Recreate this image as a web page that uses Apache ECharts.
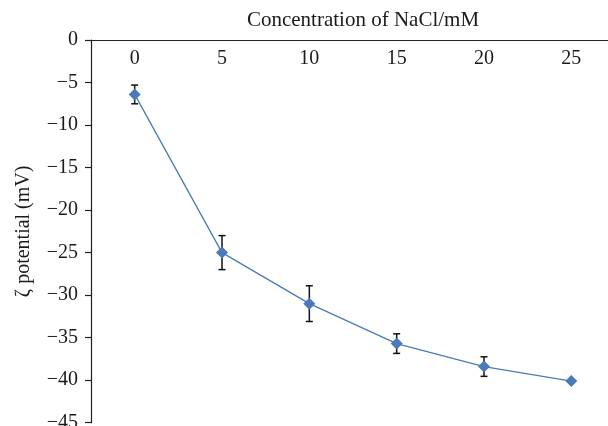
<!DOCTYPE html>
<html>
<head>
<meta charset="utf-8">
<script src="https://cdn.jsdelivr.net/npm/echarts@6/dist/echarts.min.js"></script>
<style>
  html, body { margin: 0; padding: 0; background: #fff; }
  #chart { width: 608px; height: 426px; }
</style>
</head>
<body>
<div id="chart"></div>
<script>
// NaCl concentration (mM) and measured zeta potential (mV) with standard deviation
const concentrations = ['0', '5', '10', '15', '20', '25'];
const zetaPotential = [-6.4, -25.0, -31.0, -35.7, -38.4, -40.1];
const zetaError = [1.1, 2.0, 2.1, 1.15, 1.15, 0];

const FONT = 'Liberation Serif';
const BLUE = '#4a7ab7';

const minusSign = v => (v < 0 ? '\u2212' + Math.abs(v) : String(v));

const errorData = concentrations.map((c, i) => [i, zetaPotential[i] - zetaError[i], zetaPotential[i] + zetaError[i]]);

const chart = echarts.init(document.getElementById('chart'), null, { renderer: 'canvas' });
chart.setOption({
  animation: false,
  grid: { left: 91, top: 40, width: 524, height: 382.7, outerBoundsMode: 'none', containLabel: false },
  xAxis: {
    type: 'category',
    position: 'top',
    data: concentrations,
    boundaryGap: true,
    name: 'Concentration of NaCl/mM',
    nameLocation: 'middle',
    nameGap: 9,
    nameTextStyle: { fontFamily: FONT, fontSize: 21, color: '#1a1a1a', padding: [0, 0, 0, 20] },
    axisLine: { onZero: false, lineStyle: { color: '#222', width: 1.2 } },
    axisTick: { inside: true, length: 5, lineStyle: { color: '#222', width: 1.2 } },
    axisLabel: { inside: true, margin: 9, fontFamily: FONT, fontSize: 20, color: '#1a1a1a' },
    splitLine: { show: false }
  },
  yAxis: {
    type: 'value',
    min: -45,
    max: 0,
    interval: 5,
    name: '\u03b6 potential (mV)',
    nameLocation: 'middle',
    nameGap: 57,
    nameRotate: 90,
    nameTextStyle: { fontFamily: FONT, fontSize: 20, color: '#1a1a1a' },
    axisLine: { show: true, lineStyle: { color: '#222', width: 1.2 } },
    axisTick: { show: true, length: 6, lineStyle: { color: '#222', width: 1.2 } },
    axisLabel: { margin: 13, fontFamily: FONT, fontSize: 20, color: '#1a1a1a', formatter: minusSign },
    splitLine: { show: false }
  },
  series: [
    {
      type: 'line',
      data: zetaPotential,
      symbol: 'diamond',
      symbolSize: 12,
      itemStyle: { color: BLUE },
      lineStyle: { color: BLUE, width: 1.3 },
      z: 3
    },
    {
      type: 'custom',
      data: errorData,
      z: 2,
      renderItem: (params, api) => {
        const x = api.value(0);
        const lo = api.coord([x, api.value(1)]);
        const hi = api.coord([x, api.value(2)]);
        if (Math.abs(lo[1] - hi[1]) < 0.5) return null;
        const half = 3.5;
        const style = { stroke: '#111', lineWidth: 1.5 };
        return {
          type: 'group',
          children: [
            { type: 'line', shape: { x1: lo[0], y1: lo[1], x2: hi[0], y2: hi[1] }, style },
            { type: 'line', shape: { x1: lo[0] - half, y1: lo[1], x2: lo[0] + half, y2: lo[1] }, style },
            { type: 'line', shape: { x1: hi[0] - half, y1: hi[1], x2: hi[0] + half, y2: hi[1] }, style }
          ]
        };
      }
    }
  ]
});
</script>
</body>
</html>
